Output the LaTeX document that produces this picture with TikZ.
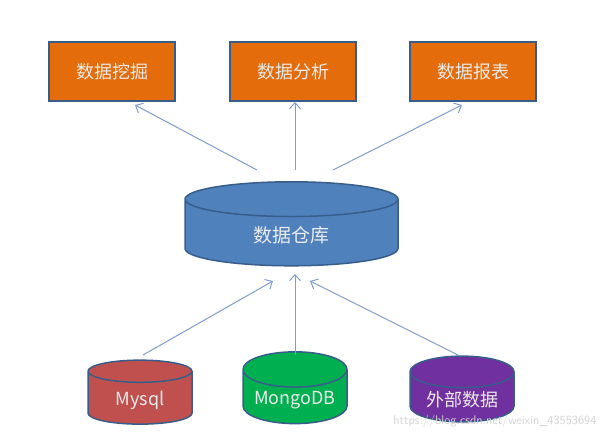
\documentclass[tikz,border=0pt]{standalone}
\usepackage{fontspec}
\setmainfont{Noto Sans CJK SC}
\usetikzlibrary{shapes.geometric,arrows.meta}
\definecolor{boxorange}{HTML}{E46C0A}
\definecolor{edgeblue}{HTML}{385D8A}
\definecolor{dwblue}{HTML}{4F81BD}
\definecolor{dbred}{HTML}{C0504D}
\definecolor{dbgreen}{HTML}{00B050}
\definecolor{dbpurple}{HTML}{7030A0}
\definecolor{linkblue}{HTML}{7F9DCB}
\begin{document}
\begin{tikzpicture}[x=1pt, y=-1pt,
    appbox/.style={draw=edgeblue, line width=1.5pt, fill=boxorange, text=white!92!black,
        minimum width=126pt, minimum height=59pt, font=\fontsize{18}{20}\selectfont},
    dbcyl/.style={cylinder, shape border rotate=90, draw=edgeblue, line width=1.5pt,
        text=white!92!black, font=\fontsize{18}{20}\selectfont},
    link/.style={linkblue, line width=1pt, -{Straight Barb[length=6pt, width=11pt]}}]
    \useasboundingbox (0,0) rectangle (604,442);

    % Top row: applications
    \foreach \x/\name/\label in {112/mine/数据挖掘, 293/ana/数据分析, 473/rep/数据报表} {
        \node[appbox] (\name) at (\x, 71.5) {\label};
    }

    % Data warehouse
    \node[dbcyl, fill=dwblue, aspect=0.42, minimum width=213pt, minimum height=84pt,
        font=\fontsize{19}{21}\selectfont] (dw) at (291.5, 235) {数据仓库};

    % Sources
    \node[dbcyl, fill=dbred, aspect=0.4, minimum width=104pt, minimum height=64pt] (mysql)
        at (140, 400) {Mysql};
    \node[dbcyl, fill=dbgreen, aspect=0.4, minimum width=104pt, minimum height=64pt] (mongo)
        at (295, 400) {MongoDB};
    \node[dbcyl, fill=dbpurple, aspect=0.4, minimum width=104pt, minimum height=64pt] (ext)
        at (462, 400) {外部数据};

    % Link end points
    \coordinate (dwl) at (257, 170);
    \coordinate (dwm) at (295, 170);
    \coordinate (dwr) at (333, 170);
    \coordinate (minein) at (135, 105);
    \coordinate (anain) at (295, 102);
    \coordinate (repin) at (462, 105);
    \coordinate (dwinl) at (273, 281);
    \coordinate (dwinm) at (295, 274);
    \coordinate (dwinr) at (310, 281);
    \coordinate (mysqlout) at (143, 355);
    \coordinate (mongoout) at (295, 355);
    \coordinate (extout) at (458, 355);

    % Upward links
    \draw[link] (dwl) -- (minein);
    \draw[link] (dwm) -- (anain);
    \draw[link] (dwr) -- (repin);
    \draw[link] (mysqlout) -- (dwinl);
    \draw[link] (mongoout) -- (dwinm);
    \draw[link] (extout) -- (dwinr);

    % Watermark
    \node[text=gray!35, font=\fontfamily{lmss}\fontsize{12.5}{14}\selectfont, anchor=east] (mark)
        at (600, 421) {https://blog.csdn.net/weixin\_43553694};
\end{tikzpicture}
\end{document}
